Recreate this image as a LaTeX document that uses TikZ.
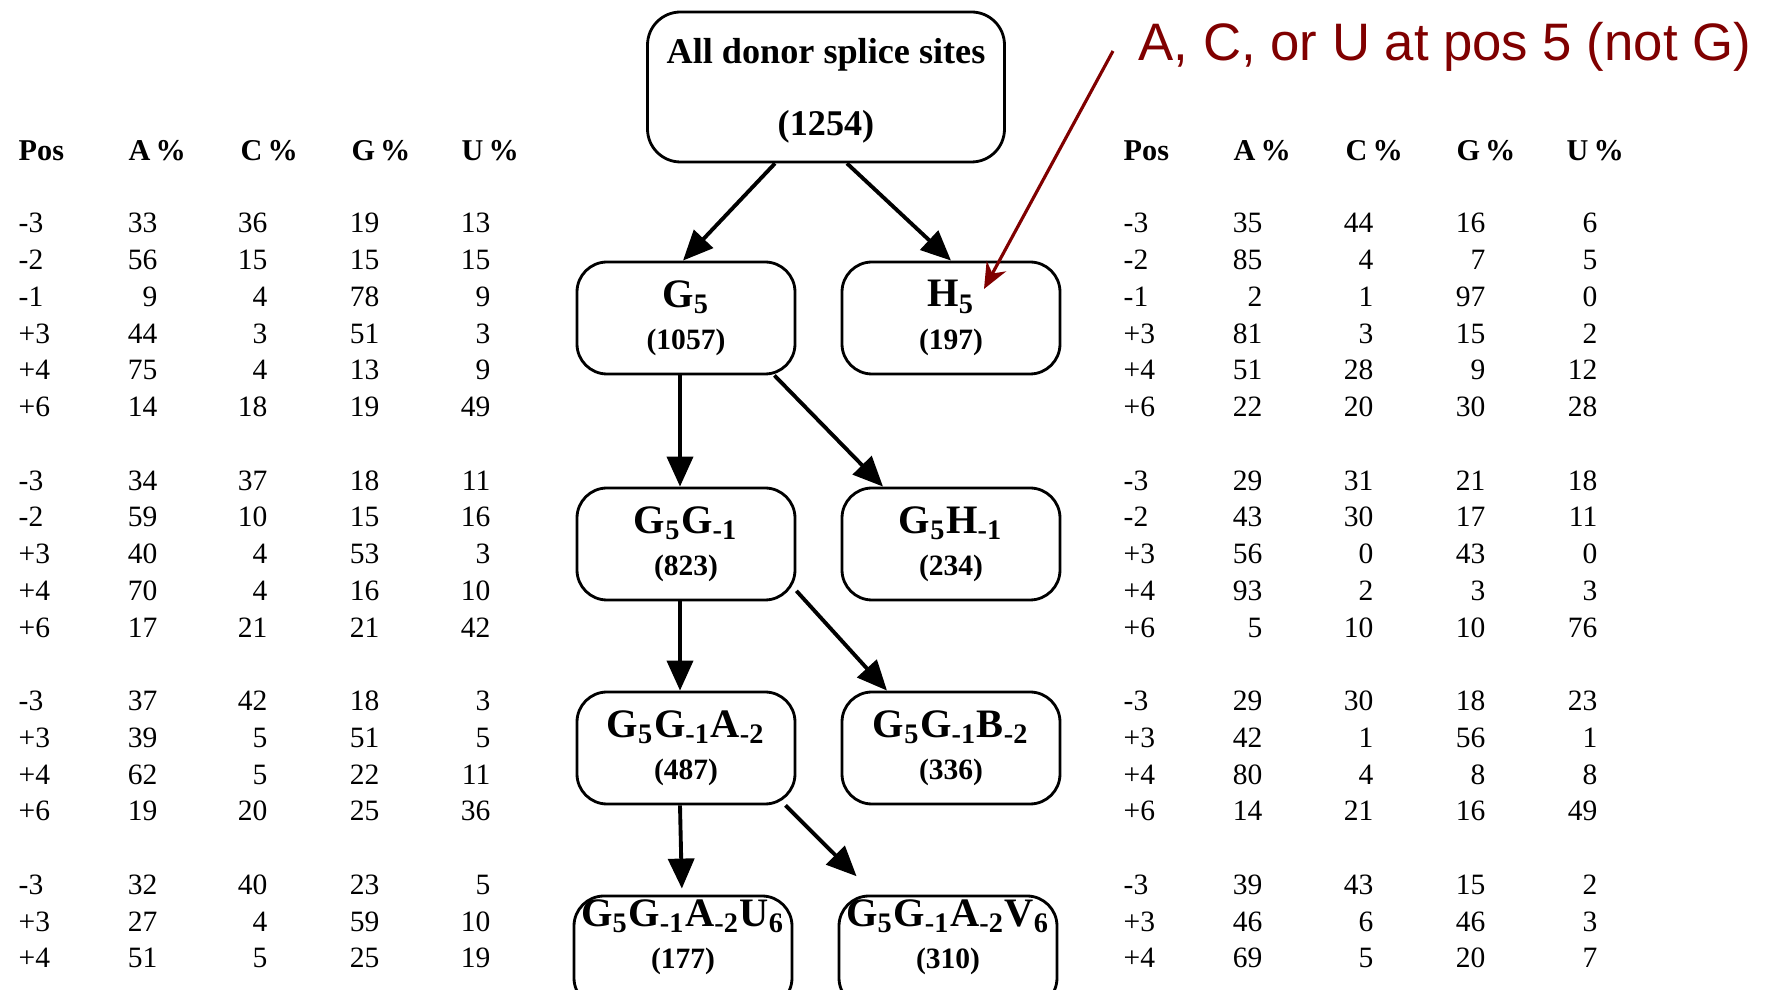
\documentclass[tikz,border=0pt]{standalone}
\usepackage{fontspec}
\setmainfont{Liberation Serif}
\newfontfamily\notefont{Liberation Sans}
\usetikzlibrary{arrows.meta}

\newcommand{\sub}[1]{\textsubscript{#1}}

\begin{document}
\begin{tikzpicture}[x=0.1mm, y=-0.1mm,
    box/.style={draw, line width=0.8pt, rounded corners=3mm, align=center,
                minimum width=21.8mm, minimum height=11.2mm, inner sep=0pt,
                font=\fontsize{11.5}{13}\selectfont\bfseries},
    lowbox/.style={box, text depth=3.6mm},
    num/.style={inner sep=0pt, anchor=east, font=\fontsize{8.4}{10}\selectfont},
    posnum/.style={num, anchor=west},
    colhead/.style={inner sep=0pt, anchor=west, font=\fontsize{8.6}{10}\selectfont\bfseries},
    treearrow/.style={line width=1.1pt, -{Triangle[length=3mm, width=2.6mm]}}]
    \colorlet{noteRed}{red!50!black}
    \newcommand{\cnt}[1]{{\fontsize{8.4}{10}\selectfont #1}}

    \useasboundingbox (0,0) rectangle (1767,990);

    % decision tree
    \node[box, minimum width=35.7mm, minimum height=15mm, rounded corners=3.3mm,
          text depth=0pt, font=\fontsize{10.3}{12}\selectfont\bfseries] (all) at (826,87)
          {All donor splice sites\\[8.5pt](1254)};
    \node[box] (g5)  at (686,318) {G\sub{5}\\[-1pt]\cnt{(1057)}};
    \node[box] (h5)  at (951,318) {H\sub{5}\\[-1pt]\cnt{(197)}};
    \node[box] (gg)  at (686,544) {G\sub{5}G\sub{-1}\\[-1pt]\cnt{(823)}};
    \node[box] (gh)  at (951,544) {G\sub{5}H\sub{-1}\\[-1pt]\cnt{(234)}};
    \node[box] (ga)  at (686,748) {G\sub{5}G\sub{-1}A\sub{-2}\\[-1pt]\cnt{(487)}};
    \node[box] (gb)  at (951,748) {G\sub{5}G\sub{-1}B\sub{-2}\\[-1pt]\cnt{(336)}};
    \node[lowbox] (gu) at (683,952) {G\sub{5}G\sub{-1}A\sub{-2}U\sub{6}\\[-1pt]\cnt{(177)}};
    \node[lowbox] (gv) at (948,952) {G\sub{5}G\sub{-1}A\sub{-2}V\sub{6}\\[-1pt]\cnt{(310)}};

    \draw[treearrow] ([xshift=-5.1mm]all.south) -- ([xshift=-0.3mm]g5.north);
    \draw[treearrow] ([xshift=2.1mm]all.south) -- (h5.north);
    \draw[treearrow] ([xshift=-0.6mm]g5.south) -- ([xshift=-0.6mm]gg.north);
    \draw[treearrow] (g5.-33) -- ([xshift=-6.8mm]gh.north);
    \draw[treearrow] ([xshift=-0.6mm]gg.south) -- ([xshift=-0.6mm]ga.north);
    \draw[treearrow] (gg.-23) -- ([xshift=-6.4mm]gb.north);
    \draw[treearrow, shorten >=0.6mm] ([xshift=-0.6mm]ga.south) -- ([xshift=-0.1mm]gu.north);
    \draw[treearrow, shorten >=2.6mm] (ga.-30) -- ([xshift=-7.3mm]gv.north);

    % annotation
    \node[inner sep=0pt, anchor=west, text=noteRed, font=\notefont\fontsize{15}{18}\selectfont]
          (note) at (1138,47) {A, C, or U at pos 5 (not G)};
    \coordinate (tipH) at ([shift={(3.3mm,2.9mm)}]h5.center);
    \draw[noteRed, line width=0.9pt, -{Stealth[length=2.6mm, width=2.2mm]}]
          ([xshift=-2.5mm,yshift=-0.4mm]note.west) -- (tipH);

    % left table
    \node[colhead] (lhp) at (18,151)  {Pos};
    \node[colhead] (lha) at (128,151) {A\,\%};
    \node[colhead] (lhc) at (240,151) {C\,\%};
    \node[colhead] (lhg) at (351,151) {G\,\%};
    \node[colhead] (lhu) at (461,151) {U\,\%};
    \foreach \y/\p/\a/\c/\g/\u [count=\i] in {
        223/-3/33/36/19/13, 260/-2/56/15/15/15, 297/-1/9/4/78/9,
        334/+3/44/3/51/3, 370/+4/75/4/13/9, 407/+6/14/18/19/49,
        481/-3/34/37/18/11, 517/-2/59/10/15/16, 554/+3/40/4/53/3,
        591/+4/70/4/16/10, 628/+6/17/21/21/42,
        701/-3/37/42/18/3, 738/+3/39/5/51/5, 775/+4/62/5/22/11, 811/+6/19/20/25/36,
        885/-3/32/40/23/5, 922/+3/27/4/59/10, 958/+4/51/5/25/19} {
        \node[posnum] (lp\i) at (18,\y)  {\p};
        \node[num] (la\i) at (158,\y) {\a};
        \node[num] (lc\i) at (268,\y) {\c};
        \node[num] (lg\i) at (380,\y) {\g};
        \node[num] (lu\i) at (491,\y) {\u};
    }

    % right table
    \node[colhead] (rhp) at (1123,151) {Pos};
    \node[colhead] (rha) at (1233,151) {A\,\%};
    \node[colhead] (rhc) at (1345,151) {C\,\%};
    \node[colhead] (rhg) at (1456,151) {G\,\%};
    \node[colhead] (rhu) at (1566,151) {U\,\%};
    \foreach \y/\p/\a/\c/\g/\u [count=\i] in {
        223/-3/35/44/16/6, 260/-2/85/4/7/5, 297/-1/2/1/97/0,
        334/+3/81/3/15/2, 370/+4/51/28/9/12, 407/+6/22/20/30/28,
        481/-3/29/31/21/18, 517/-2/43/30/17/11, 554/+3/56/0/43/0,
        591/+4/93/2/3/3, 628/+6/5/10/10/76,
        701/-3/29/30/18/23, 738/+3/42/1/56/1, 775/+4/80/4/8/8, 811/+6/14/21/16/49,
        885/-3/39/43/15/2, 922/+3/46/6/46/3, 958/+4/69/5/20/7} {
        \node[posnum] (rp\i) at (1123,\y) {\p};
        \node[num] (ra\i) at (1263,\y) {\a};
        \node[num] (rc\i) at (1374,\y) {\c};
        \node[num] (rg\i) at (1486,\y) {\g};
        \node[num] (ru\i) at (1598,\y) {\u};
    }
\end{tikzpicture}
\end{document}
